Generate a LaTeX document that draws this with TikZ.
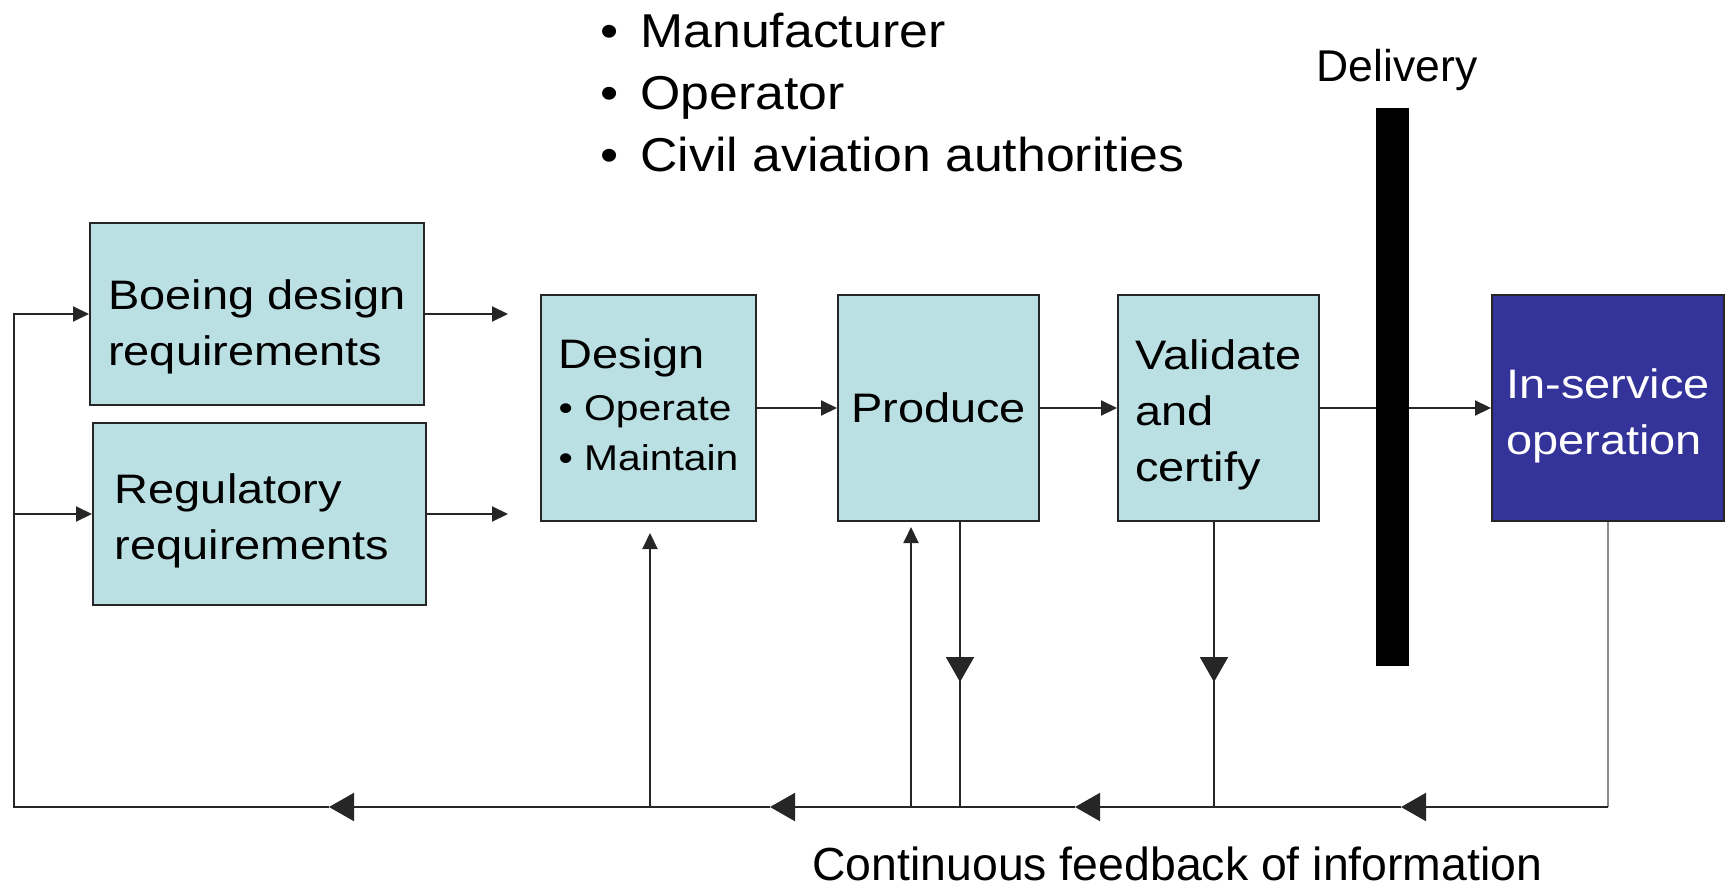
\documentclass[tikz,border=0pt]{standalone}
\usepackage{fontspec}
\setmainfont{Liberation Sans}
\newfontfamily\boxfont{Liberation Sans}[FakeStretch=1.14]
\newfontfamily\listfont{Liberation Sans}[FakeStretch=1.09]
\usetikzlibrary{arrows.meta}
\definecolor{boxblue}{HTML}{BBE0E3}
\definecolor{servblue}{HTML}{333399}
\tikzset{
  procbox/.style={draw=black!85, line width=1pt, fill=boxblue, align=left, inner sep=0pt,
    font=\boxfont\fontsize{20.6pt}{28pt}\selectfont},
  flow/.style={draw=black!85, line width=1pt},
  smalltip/.style={flow, -{Triangle[length=8pt,width=7.5pt]}},
  bigtip/.style={flow, -{Triangle[length=12.5pt,width=14pt]}},
}
\newcommand{\designpt}[1]{{\fontsize{17.9pt}{24pt}\selectfont\textbullet\ #1}}
\newcommand{\padtop}[1]{\rule{0pt}{#1}}

\begin{document}
\begin{tikzpicture}[x=0.5pt,y=-0.5pt]
			%%%%% START %%%%%
			\useasboundingbox (0,0) rectangle (1729,888);
			\def\yrow{408}
			\def\ybus{807}
			\def\hreq{91pt}
			\def\hrow{113pt}
			
			% requirements
			\node[procbox, minimum width=167pt, minimum height=\hreq] (boeing) at (257,314) {\padtop{27.35pt}Boeing design\\requirements};
			\node[procbox, minimum width=166.5pt, minimum height=\hreq] (regul) at (259.5,514) {\padtop{21.35pt}Regulatory\\requirements\rule{7.7pt}{0pt}};
			
			% process row
			\node[procbox, minimum width=107.5pt, minimum height=\hrow] (design) at (648.5,\yrow) {Design\\[-2pt]\designpt{Operate}\\[-3pt]\designpt{Maintain}\rule[-3pt]{0pt}{0pt}};
			\node[procbox, minimum width=100.5pt, minimum height=\hrow] (produce) at (938.5,\yrow) {Produce};
			\node[procbox, minimum width=100.5pt, minimum height=\hrow] (validate) at (1218.5,\yrow) {\padtop{21.75pt}Validate\\and\\certify};
			\node[procbox, fill=servblue, text=white, minimum width=116pt, minimum height=\hrow] (inserv) at (1608,\yrow) {\padtop{22.55pt}In-service\\operation};
			
			\node[font=\listfont\fontsize{23.75pt}{31pt}\selectfont, align=left, anchor=north west, inner sep=0pt] (who) at (600,12.5)
				{\makebox[20pt][l]{\textbullet}Manufacturer\\\makebox[20pt][l]{\textbullet}Operator\\\makebox[20pt][l]{\textbullet}Civil aviation authorities};
			
			\coordinate (fbL) at (14,\ybus);
			\coordinate (fbR) at (inserv.south |- fbL);
			\coordinate (upD) at (650,\ybus);
			\coordinate (upP) at (911,\ybus);
			\coordinate (dnP) at (960,\ybus);
			\coordinate (dnV) at (1214,\ybus);
			
			% forward flow
			\draw[smalltip] (boeing.east) -- +(83,0);
			\draw[smalltip] (regul.east) -- +(81,0);
			\draw[smalltip] (design) -- (produce);
			\draw[smalltip] (produce) -- (validate);
			\draw[smalltip] (validate) -- (inserv);
			
			% delivery
			\node[fill=black, inner sep=0pt, minimum width=16.5pt, minimum height=279pt] (bar) at (1392.5,387) {};
			\node[font=\fontsize{22.25pt}{26pt}\selectfont, anchor=base, inner sep=0pt] (deliv) at (1397,82) {Delivery};
			
			% feedback bus
			\draw[flow, draw=black!45] (inserv.south) -- (fbR);
			\foreach \a/\b in {1608/1401,1401/1075,1075/770,770/329}
				\draw[bigtip] (\a,\ybus) -- (\b,\ybus);
			\draw[smalltip] (329,\ybus) -- (fbL) |- (boeing.west);
			\draw[smalltip] (fbL |- regul.west) -- (regul.west);
			
			\draw[smalltip, shorten >=5.5pt] (upD) -- (upD |- design.south);
			\draw[smalltip, shorten >=2.5pt] (upP) -- (upP |- produce.south);
			\draw[flow] (produce.south -| dnP) -- (dnP);
			\draw[bigtip] (produce.south -| dnP) -- ++(0,160);
			\draw[flow] (validate.south -| dnV) -- (dnV);
			\draw[bigtip] (validate.south -| dnV) -- ++(0,160);
			
			\node[font=\fontsize{23.2pt}{27pt}\selectfont, anchor=base west, inner sep=0pt] (feedback) at (812,880) {Continuous feedback of information};
			%%%%% START %%%%%
\end{tikzpicture}
\end{document}
